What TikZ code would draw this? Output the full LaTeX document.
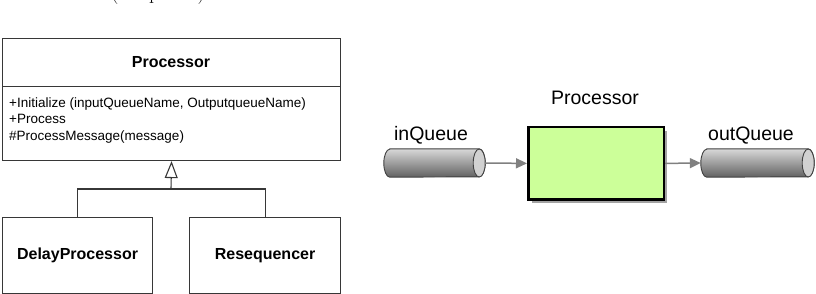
\documentclass[tikz,border=0pt]{standalone}
\usepackage{fontspec}
\setsansfont{Liberation Sans}
\usetikzlibrary{arrows.meta,shadows}
\definecolor{procgreen}{RGB}{204,255,153}
\definecolor{umlgray}{RGB}{55,55,55}
\newcommand{\qcylinder}[1]{%
  \shade[top color=black!15, bottom color=black!62, draw=black!75, line width=0.9pt]
    ([xshift=6pt]#1.north west) -- ([xshift=-6pt]#1.north east)
    arc[start angle=90, end angle=-90, x radius=6pt, y radius=14pt]
    -- ([xshift=6pt]#1.south west)
    arc[start angle=270, end angle=90, x radius=6pt, y radius=14pt] -- cycle;
  \draw[fill=black!18, draw=black!75, line width=0.9pt]
    ([xshift=-6pt]#1.east) ellipse[x radius=6pt, y radius=14pt];
}
\begin{document}
\begin{tikzpicture}[x=1pt,y=-1pt,
  umlline/.style={draw=umlgray, line width=1.1pt},
  umlbox/.style={umlline, fill=white, inner sep=0pt, anchor=north west},
  umltitle/.style={font=\sffamily\bfseries\fontsize{16}{19}\selectfont, inner sep=0pt},
  umlop/.style={font=\sffamily\fontsize{13.5}{16}\selectfont, inner sep=0pt, anchor=base west},
  lbl/.style={font=\sffamily\fontsize{19.5}{23}\selectfont, inner sep=0pt, anchor=base},
  queue/.style={inner sep=0pt, minimum height=28pt},
  flow/.style={draw=black!50, line width=1.5pt, -{Triangle[length=11pt,width=10pt]}}]
\useasboundingbox (0,0) rectangle (816,294);
\begin{scope}
  \clip (0,0) rectangle (816,294);
  \node[font=\fontsize{20}{24}\selectfont, anchor=base, inner sep=0pt] (cap) at (158,-0.5) {(Simplified)};
\end{scope}
% UML class
\node[umlbox, minimum width=338pt, minimum height=48pt] (hdr) at (2,38) {};
\node[umltitle, anchor=base] (hdrtxt) at (171,68) {Processor};
\node[umlbox, minimum width=338pt, minimum height=74pt] (cmp) at (2,86) {};
\node[umlop] (op1) at (9,108) {+Initialize (inputQueueName, OutputqueueName)};
\node[umlop] (op2) at (9,124) {+Process};
\node[umlop] (op3) at (9,140) {\#ProcessMessage(message)};
\node[umlbox, minimum width=150pt, minimum height=76pt, umltitle] (dp) at (2,217) {DelayProcessor};
\node[umlbox, minimum width=151pt, minimum height=76pt, umltitle] (rs) at (189,217) {Resequencer};
\coordinate (junc) at (171,189);
\draw[umlline] (dp.north) |- (junc) -| (rs.north);
\draw[umlline, -{Triangle[open, length=17pt, width=13pt, fill=white]}] (junc) -- (cmp.south);
% Pipeline
\node[draw=black, line width=2.5pt, fill=procgreen, minimum width=135.5pt, minimum height=72.5pt,
  drop shadow={shadow xshift=3.5pt, shadow yshift=-3.5pt, opacity=0.6, fill=black!60}] (proc) at (596,163.4) {};
\node[lbl] (proctxt) at (595,105) {Processor};
\node[queue, minimum width=101pt] (inq) at (434.5,163) {};
\node[queue, minimum width=113pt] (outq) at (757.5,163) {};
\qcylinder{inq}
\qcylinder{outq}
\node[lbl] (inqtxt) at (431,140) {inQueue};
\node[lbl] (outqtxt) at (751,140) {outQueue};
\draw[flow] (inq.east) -- (proc.west);
\draw[flow] (proc.east) -- (outq.west);
\end{tikzpicture}
\end{document}
